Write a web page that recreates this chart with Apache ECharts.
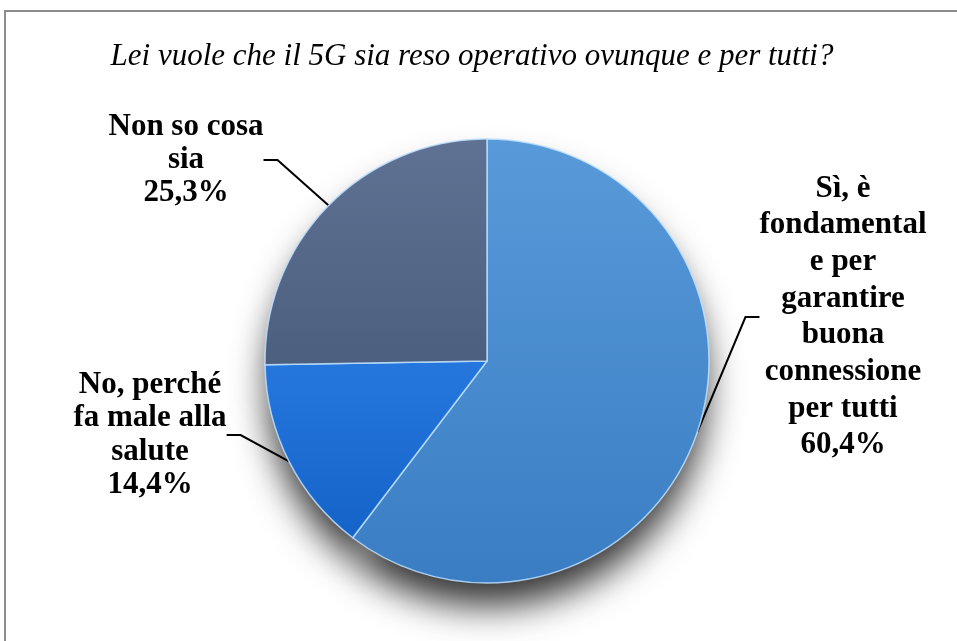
<!DOCTYPE html>
<html>
<head>
<meta charset="utf-8">
<script src="https://cdn.jsdelivr.net/npm/echarts@6/dist/echarts.min.js"></script>
<style>
html,body{margin:0;padding:0;background:#fff;}
#frame{position:absolute;left:4px;top:10px;width:1000px;height:700px;border-top:2px solid #8c8c8c;border-left:2px solid #8c8c8c;}
#chart{position:absolute;left:0;top:0;width:957px;height:641px;}
</style>
</head>
<body>
<div id="frame"></div>
<div id="chart"></div>
<script>
var titleText = 'Lei vuole che il 5G sia reso operativo ovunque e per tutti?';
var categories = ['Sì, è\nfondamental\ne per\ngarantire\nbuona\nconnessione\nper tutti', 'No, perché\nfa male alla\nsalute', 'Non so cosa\nsia'];
var values = [60.4, 14.4, 25.3];
var sliceColors = [
	['#589ad9', '#3a7dc3'],
	['#2577de', '#1563c9'],
	['#5f7293', '#4d5f7f']
];

var cx = 487, cy = 361, r = 222;

function grad(c){
	return new echarts.graphic.LinearGradient(0, 0, 0, 1, [{offset:0,color:c[0]},{offset:1,color:c[1]}]);
}

// label block centres relative to pie centre, plus line height
var labelSpots = [
	{dx: 356, dy: -44, lh: 36.7},
	{dx: -337, dy: 74, lh: 33.5},
	{dx: -301, dy: -201, lh: 33}
];

var frontData = [];
var backData = [];
for(var i=0;i<values.length;i++){
	frontData.push({
		name: categories[i],
		value: values[i],
		itemStyle: {color: grad(sliceColors[i])},
		label: {lineHeight: labelSpots[i].lh}
	});
	backData.push({name: categories[i], value: values[i]});
}

var chart = echarts.init(document.getElementById('chart'));
chart.setOption({
	backgroundColor: 'transparent',
	animation: false,
	title: {
		text: titleText,
		left: 467,
		top: 36,
		textAlign: 'center',
		textStyle: {
			fontFamily: 'Liberation Serif',
			fontStyle: 'italic',
			fontWeight: 'normal',
			fontSize: 31,
			color: '#000'
		}
	},
	series: [
		{
			type: 'pie',
			silent: true,
			center: [cx, cy],
			radius: r - 3,
			startAngle: 90,
			clockwise: true,
			label: {show: false},
			labelLine: {show: false},
			itemStyle: {
				color: '#555',
				shadowBlur: 36,
				shadowOffsetY: 26,
				shadowColor: 'rgba(0,0,0,0.8)'
			},
			data: backData,
			z: 1
		},
		{
			type: 'pie',
			center: [cx, cy],
			radius: r,
			startAngle: 90,
			clockwise: true,
			itemStyle: {
				borderColor: 'rgba(190,225,255,0.85)',
				borderWidth: 1.5
			},
			label: {
				show: true,
				formatter: function(p){
					return p.name + '\n' + p.value.toFixed(1).replace('.', ',') + '%';
				},
				fontFamily: 'Liberation Serif',
				fontWeight: 'bold',
				fontSize: 31,
				color: '#000',
				align: 'center'
			},
			labelLine: {
				show: true,
				length: 20,
				length2: 14,
				lineStyle: {color: '#000', width: 2}
			},
			labelLayout: function(p){
				var s = labelSpots[p.dataIndex];
				return {
					x: cx + s.dx,
					y: cy + s.dy,
					align: 'center',
					verticalAlign: 'middle'
				};
			},
			data: frontData,
			z: 2
		}
	]
});
</script>
</body>
</html>
